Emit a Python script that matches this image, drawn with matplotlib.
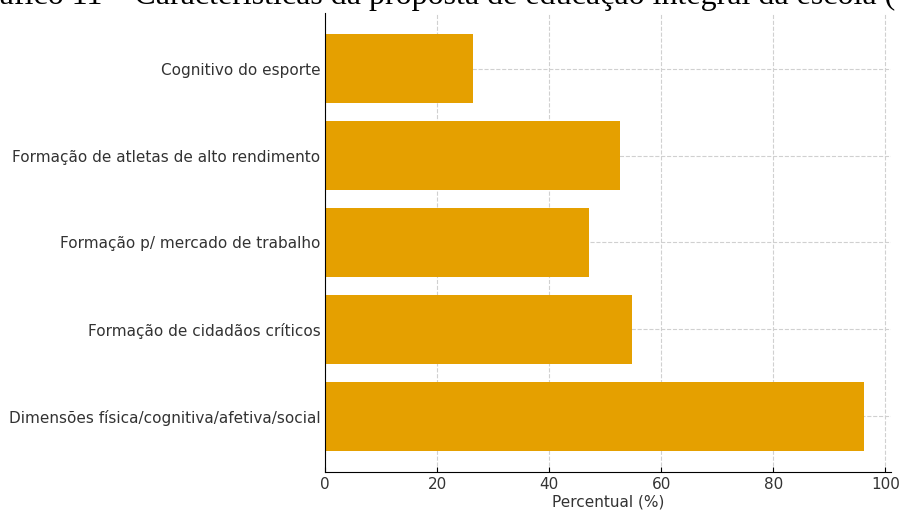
import matplotlib.pyplot as plt

categorias = [
    'Cognitivo do esporte',
    'Formação de atletas de alto rendimento',
    'Formação p/ mercado de trabalho',
    'Formação de cidadãos críticos',
    'Dimensões física/cognitiva/afetiva/social',
]
percentuais = [26.4, 52.7, 47.1, 54.7, 96.2]

fig = plt.figure(figsize=(9, 5.11), dpi=100)
ax = fig.add_axes([0.3614, 0.0763, 0.6285, 0.8983])

ax.barh(categorias, percentuais, height=0.8, color='#E5A000', zorder=2)
ax.invert_yaxis()

ax.set_xlabel('Percentual (%)', fontsize=11, color='#333333', labelpad=2)
ax.tick_params(axis='both', direction='in', length=3.5, labelsize=11, labelcolor='#333333')
ax.grid(True, linestyle='--', color='#d0d0d0', linewidth=0.8, zorder=0)
ax.spines['top'].set_visible(False)
ax.spines['right'].set_visible(False)
ax.set_axisbelow(True)

# titulo cortado no topo, como na imagem original
fig.text(0.995, 1.008, 'Gráfico 11 – Características da proposta de educação integral da escola (',
         ha='right', va='center', fontsize=23, family='Liberation Serif')

fig.savefig('out.png', dpi=100)
